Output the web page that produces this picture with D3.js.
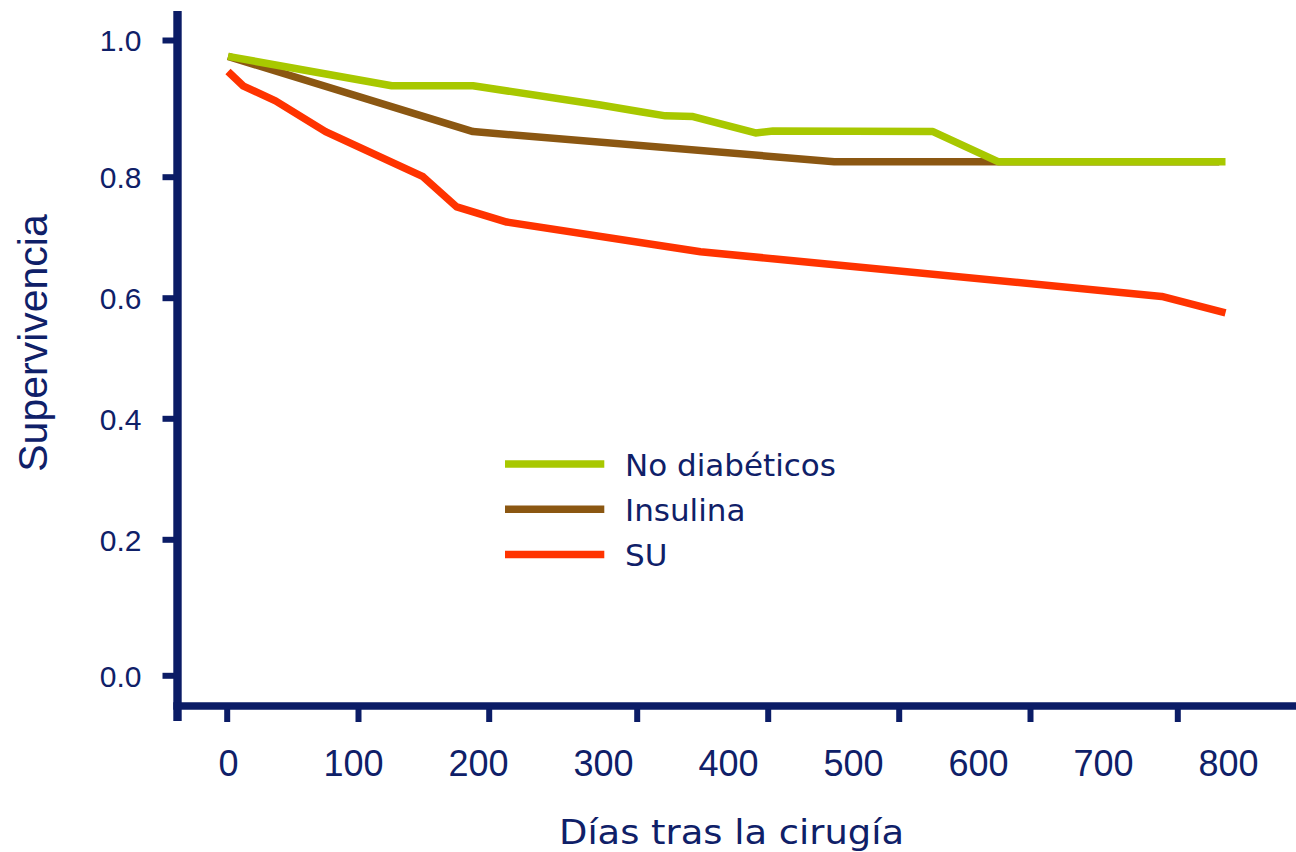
<!DOCTYPE html>
<html>
<head>
<meta charset="utf-8">
<script src="https://cdn.jsdelivr.net/npm/d3@7"></script>
<style>
  html, body { margin: 0; padding: 0; background: #ffffff; }
  svg { display: block; }
</style>
</head>
<body>
<svg id="chart" width="1296" height="852"></svg>
<script>
// Survival after surgery by group
const seriesNames = ["No diabéticos", "Insulina", "SU"];
const seriesColors = ["#a8c800", "#8b5712", "#ff3300"];

const noDiabDays = [0, 131, 196, 298, 330, 350, 372, 422, 436, 564, 616, 798];
const noDiabSurv = [0.976, 0.933, 0.933, 0.905, 0.895, 0.889, 0.888, 0.864, 0.867, 0.866, 0.822, 0.822];

const insulinaDays = [0, 196, 485, 793];
const insulinaSurv = [0.976, 0.866, 0.822, 0.822];

const suDays = [0, 12, 38, 78, 156, 183, 223, 378, 747, 798];
const suSurv = [0.954, 0.933, 0.911, 0.866, 0.800, 0.750, 0.725, 0.676, 0.602, 0.575];

const xTicks = [0, 100, 200, 300, 400, 500, 600, 700, 800];
const yTicks = [0.0, 0.2, 0.4, 0.6, 0.8, 1.0];

const xTitle = "Días tras la cirugía";
const yTitle = "Supervivencia";

const navy = "#0b1c66";
const textNavy = "#0f2068";

const svg = d3.select("#chart");

// scales
const x = d3.scaleLinear().domain([0, 800]).range([228, 1228]);
const y = d3.scaleLinear().domain(yTicks).range([675.3, 539.3, 418.3, 297.7, 176.7, 40]);
// tick marks along the bottom axis sit on their own spacing
const xMark = d3.scaleLinear()
  .domain([0, 100, 200, 300, 400, 500, 600, 700])
  .range([226.7, 358, 488.7, 636.7, 767.7, 898.7, 1030, 1177.3]);

// y axis: tick marks and labels
const yAxis = svg.append("g")
  .attr("transform", "translate(177.5,0)")
  .call(d3.axisLeft(y).tickValues(yTicks).tickSize(15).tickPadding(21)
    .tickFormat(d3.format(".1f")));
yAxis.select(".domain").remove();
yAxis.selectAll(".tick line").attr("stroke", navy).attr("stroke-width", 6);
yAxis.selectAll(".tick text")
  .attr("fill", textNavy)
  .attr("font-family", "Liberation Sans, Arial, sans-serif")
  .attr("font-size", 30)
  .attr("dy", "0.36em");

// x axis labels
const xAxisLabels = svg.append("g")
  .attr("transform", "translate(0,706)")
  .call(d3.axisBottom(x).tickValues(xTicks).tickSize(0).tickPadding(44));
xAxisLabels.select(".domain").remove();
xAxisLabels.selectAll(".tick text")
  .attr("fill", textNavy)
  .attr("font-family", "Liberation Sans, Arial, sans-serif")
  .attr("font-size", 36)
  .attr("dy", 0)
  .attr("y", 70);

// x axis tick marks
const xAxisMarks = svg.append("g")
  .attr("transform", "translate(0,706)")
  .call(d3.axisBottom(xMark).tickValues(xMark.domain()).tickSize(16).tickFormat(""));
xAxisMarks.select(".domain").remove();
xAxisMarks.selectAll(".tick line").attr("stroke", navy).attr("stroke-width", 6);

// axis lines
svg.append("line")
  .attr("x1", 177.5).attr("x2", 177.5).attr("y1", 11).attr("y2", 721)
  .attr("stroke", navy).attr("stroke-width", 8.4);
svg.append("line")
  .attr("x1", 173.3).attr("x2", 1296).attr("y1", 706).attr("y2", 706)
  .attr("stroke", navy).attr("stroke-width", 7.5);

// survival curves
const series = [
  { name: seriesNames[0], color: seriesColors[0], days: noDiabDays, surv: noDiabSurv },
  { name: seriesNames[1], color: seriesColors[1], days: insulinaDays, surv: insulinaSurv },
  { name: seriesNames[2], color: seriesColors[2], days: suDays, surv: suSurv }
];

const line = d3.line()
  .x(d => x(d[0]))
  .y(d => y(d[1]));

// draw brown first so the green curve rides on top where they meet
const drawOrder = [1, 0, 2];
drawOrder.forEach(i => {
  const s = series[i];
  svg.append("path")
    .datum(d3.zip(s.days, s.surv))
    .attr("d", line)
    .attr("fill", "none")
    .attr("stroke", s.color)
    .attr("stroke-width", 7.5)
    .attr("stroke-linejoin", "round");
});

// legend
const legend = svg.append("g").attr("transform", "translate(505,464)");
series.forEach((s, i) => {
  const g = legend.append("g").attr("transform", `translate(0,${i * 45.2})`);
  g.append("line")
    .attr("x1", 0).attr("x2", 99.3).attr("y1", 0).attr("y2", 0)
    .attr("stroke", s.color).attr("stroke-width", 7.5);
  g.append("text")
    .attr("x", 120).attr("y", 12)
    .attr("fill", textNavy)
    .attr("font-family", "DejaVu Sans, Verdana, sans-serif")
    .attr("font-size", 31)
    .text(s.name);
});

// axis titles
svg.append("text")
  .attr("x", 559).attr("y", 844)
  .attr("fill", textNavy)
  .attr("font-family", "DejaVu Sans, Verdana, sans-serif")
  .attr("font-size", 34)
  .attr("textLength", 345)
  .attr("lengthAdjust", "spacingAndGlyphs")
  .text(xTitle);

svg.append("text")
  .attr("transform", "translate(47,343) rotate(-90)")
  .attr("text-anchor", "middle")
  .attr("fill", textNavy)
  .attr("font-family", "Liberation Sans, Arial, sans-serif")
  .attr("font-size", 41)
  .text(yTitle);
</script>
</body>
</html>
